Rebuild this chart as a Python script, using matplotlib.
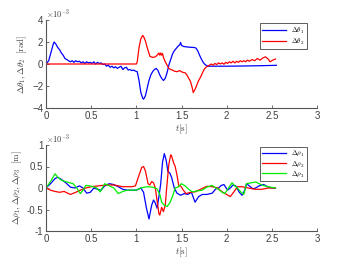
import matplotlib
matplotlib.use("Agg")
import matplotlib.pyplot as plt
import numpy as np

# ---- top panel data (x1e-3 rad) ----
t_th1 = [0, 0.03, 0.06, 0.08, 0.09, 0.11, 0.13, 0.15, 0.17, 0.19, 0.21, 0.23, 0.25, 0.27, 0.29,
         0.31, 0.33, 0.35, 0.37, 0.39, 0.41, 0.43, 0.45, 0.47, 0.49, 0.51, 0.53, 0.55, 0.57, 0.59,
         0.61, 0.63, 0.65, 0.67, 0.69, 0.71, 0.73, 0.75, 0.77, 0.79, 0.81, 0.83, 0.85, 0.87, 0.89,
         0.91, 0.93, 0.95, 0.97, 0.99, 1.01, 1.03, 1.05, 1.07, 1.08, 1.10, 1.12, 1.14, 1.16, 1.18,
         1.20, 1.22, 1.24, 1.26, 1.28, 1.30, 1.32, 1.34, 1.36, 1.38, 1.40, 1.42, 1.44, 1.46, 1.48,
         1.49, 1.50, 1.52, 1.56, 1.60, 1.64, 1.66, 1.68, 1.70, 1.72, 1.74, 1.76, 1.78, 1.80, 2.0,
         2.2, 2.4, 2.55]
th1 = [0, 0.3, 1.2, 1.8, 2.0, 1.8, 1.5, 1.3, 1.0, 0.8, 0.5, 0.4, 0.3, 0.2, 0.3,
       0.15, 0.3, 0.2, 0.25, 0.1, 0.2, 0.05, 0.2, 0.1, 0.15, 0.05, 0.2, 0.0, 0.15, 0.05,
       0.1, -0.05, 0.0, -0.2, -0.1, -0.3, -0.2, -0.35, -0.25, -0.4, -0.3, -0.2, -0.5, -0.35, -0.3,
       -0.55, -0.5, -0.6, -0.55, -0.65, -0.7, -1.5, -2.6, -3.1, -3.2, -2.9, -2.2, -1.5, -1.0, -0.7,
       -0.5, -0.4, -0.6, -1.0, -1.3, -1.5, -1.3, -0.8, -0.1, 0.4, 0.9, 1.2, 1.4, 1.6, 1.75,
       1.95, 1.7, 1.6, 1.55, 1.52, 1.5, 1.45, 1.2, 0.8, 0.45, 0.15, -0.05, -0.15, -0.2, -0.2,
       -0.18, -0.15, -0.12]

t_th2 = [0, 0.5, 1.0, 1.01, 1.03, 1.05, 1.07, 1.08, 1.10, 1.12, 1.15, 1.18, 1.21, 1.23, 1.25,
         1.26, 1.27, 1.28, 1.29, 1.30, 1.32, 1.34, 1.36, 1.38, 1.40, 1.42, 1.45, 1.48, 1.51, 1.54,
         1.56, 1.58, 1.60, 1.62, 1.63, 1.65, 1.67, 1.69, 1.71, 1.73, 1.75, 1.77, 1.79,
         1.81, 1.83, 1.85, 1.87, 1.89, 1.91, 1.93, 1.95, 1.97, 1.99, 2.01, 2.03, 2.05, 2.07, 2.09,
         2.11, 2.13, 2.15, 2.17, 2.19, 2.21, 2.23, 2.25, 2.28, 2.31, 2.34, 2.37, 2.40, 2.43, 2.46,
         2.48, 2.51, 2.54]
th2 = [0, 0, 0, 0.2, 1.5, 2.3, 2.6, 2.5, 2.1, 1.5, 0.7, 0.6, 0.65, 0.8, 1.0,
       0.8, 1.0, 0.8, 0.95, 0.6, 0.2, -0.1, -0.4, -0.5, -0.55, -0.65, -0.7, -0.6, -0.75, -0.8,
       -1.0, -1.3, -1.6, -2.2, -2.6, -2.3, -1.9, -1.5, -1.2, -0.85, -0.5, -0.3, -0.2,
       -0.1, 0.0, -0.1, 0.05, -0.05, 0.1, 0.0, 0.1, -0.02, 0.15, 0.05, 0.2, 0.1, 0.25, 0.1,
       0.25, 0.15, 0.3, 0.2, 0.3, 0.2, 0.35, 0.25, 0.4, 0.3, 0.5, 0.35, 0.55, 0.65, 0.45,
       0.2, 0.35, 0.45]

# ---- bottom panel data (x1e-3 m) ----
t_r1 = [0, 0.05, 0.1, 0.13, 0.17, 0.22, 0.27, 0.32, 0.37, 0.41, 0.45, 0.49, 0.53, 0.57, 0.61,
        0.65, 0.7, 0.75, 0.8, 0.85, 0.9, 0.95, 1.0, 1.05, 1.08, 1.11, 1.14, 1.17, 1.19, 1.21,
        1.23, 1.25, 1.27, 1.29, 1.31, 1.33, 1.35, 1.37, 1.39, 1.42, 1.45, 1.49, 1.53, 1.57, 1.61,
        1.65, 1.69, 1.73, 1.78, 1.84, 1.88, 1.91, 1.94, 1.97, 2.01, 2.04, 2.07, 2.1, 2.14, 2.17,
        2.2, 2.22, 2.25, 2.29, 2.32, 2.36, 2.41, 2.46, 2.5, 2.54]
r1 = [0, 0.1, 0.22, 0.25, 0.2, 0.12, 0.02, 0.0, 0.05, 0.0, -0.12, -0.1, 0.0, -0.03, -0.05,
      0.05, 0.1, 0.08, 0.03, -0.03, -0.05, -0.05, -0.05, 0.0, -0.1, -0.45, -0.72, -0.4, -0.28, -0.35,
      -0.47, -0.2, 0.1, 0.6, 0.8, 0.65, 0.38, 0.35, 0.25, 0.0, -0.12, -0.17, -0.13, -0.15, -0.1,
      -0.33, -0.2, -0.15, -0.15, -0.12, -0.02, 0.0, 0.06, 0.08, -0.05, 0.0, 0.07, 0.05, -0.1, -0.17,
      -0.05, 0.1, 0.05, -0.02, 0.0, 0.05, 0.08, 0.02, 0.0, 0.0]

t_r2 = [0, 0.05, 0.1, 0.15, 0.2, 0.27, 0.33, 0.38, 0.44, 0.5, 0.58, 0.67, 0.75, 0.85, 0.95,
        0.99, 1.03, 1.06, 1.08, 1.10, 1.13, 1.15, 1.17, 1.19, 1.21, 1.23, 1.25, 1.26, 1.28, 1.30,
        1.32, 1.34, 1.36, 1.38, 1.39, 1.41, 1.43, 1.45, 1.47, 1.49, 1.52, 1.55, 1.6, 1.65, 1.72,
        1.78, 1.84, 1.9, 1.95, 2.0, 2.04, 2.08, 2.12, 2.17, 2.24, 2.32, 2.39, 2.46, 2.54]
r2 = [0, -0.05, -0.08, -0.1, -0.08, -0.15, -0.1, -0.05, 0.0, 0.03, 0.05, 0.07, 0.07, 0.03, 0.03,
      0.05, 0.3, 0.48, 0.5, 0.4, 0.1, 0.07, 0.15, 0.12, 0.0, -0.3, -0.6, -0.63, -0.45, -0.55,
      -0.4, 0.1, 0.55, 0.77, 0.75, 0.6, 0.5, 0.3, 0.05, 0.05, -0.05, -0.13, -0.1, -0.09, -0.02,
      0.04, 0.03, 0.0, -0.09, -0.15, -0.2, -0.09, 0.03, 0.03, 0.0, -0.03, -0.03, 0.0, 0.0]

t_r3 = [0, 0.05, 0.1, 0.13, 0.17, 0.23, 0.3, 0.34, 0.38, 0.41, 0.44, 0.48, 0.52, 0.56, 0.6,
        0.65, 0.7, 0.75, 0.8, 0.85, 0.9, 1.0, 1.05, 1.12, 1.18, 1.23, 1.26, 1.28, 1.31, 1.34,
        1.37, 1.40, 1.43, 1.46, 1.5, 1.54, 1.58, 1.62, 1.67, 1.73, 1.78, 1.84, 1.88, 1.91, 1.95,
        1.98, 2.02, 2.06, 2.09, 2.12, 2.16, 2.19, 2.22, 2.27, 2.32, 2.36, 2.4, 2.46, 2.54]
r3 = [0, 0.15, 0.33, 0.25, 0.18, 0.14, 0.1, 0.0, -0.13, -0.05, 0.06, 0.05, 0.03, 0.0, -0.09,
      0.1, 0.05, 0.0, -0.13, -0.08, -0.05, -0.05, 0.0, 0.03, 0.02, -0.02, -0.15, -0.33, -0.4, -0.43,
      -0.35, -0.2, 0.0, 0.02, 0.1, 0.05, -0.03, -0.09, -0.07, -0.05, 0.02, 0.06, 0.0, -0.03, -0.1,
      -0.13, 0.0, 0.12, 0.05, 0.0, -0.1, -0.15, 0.1, 0.12, 0.14, 0.1, 0.06, 0.03, 0.0]

xticks = [0, 0.5, 1, 1.5, 2, 2.5, 3]
xticklabels = ["0", "0.5", "1", "1.5", "2", "2.5", "3"]
yticks_top = [-4, -2, 0, 2, 4]
yticks_bot = [-1, -0.5, 0, 0.5, 1]
yticklabels_bot = ["-1", "-0.5", "0", "0.5", "1"]

plt.rcParams['mathtext.fontset'] = 'cm'
plt.rcParams['font.family'] = ['Liberation Sans', 'DejaVu Sans']

fig = plt.figure(figsize=(3.5, 2.64), dpi=100)
W, H = 350, 264
ax1 = fig.add_axes([46/W, 1-108/H, 271/W, 88/H])
ax2 = fig.add_axes([46/W, 1-231/H, 271/W, 86/H])

tc = '#404040'
for ax in (ax1, ax2):
    for s in ('top', 'right'):
        ax.spines[s].set_visible(False)
    for s in ('left', 'bottom'):
        ax.spines[s].set_color('#555555')
        ax.spines[s].set_linewidth(0.8)
    ax.tick_params(direction='in', length=2.5, width=0.6, colors='#555555',
                   labelcolor=tc, labelsize=7, pad=2)
    ax.set_xlim(0, 3)
    ax.set_xticks(xticks)
    ax.set_xticklabels(xticklabels)
    ax.set_xlabel(r'$t\mathrm{[s]}$', fontsize=6.5, color=tc, labelpad=1)

ax1.plot(t_th1, th1, color='#0000ff', lw=0.9, label=r'$\Delta\theta_1$')
ax1.plot(t_th2, th2, color='#ff0000', lw=0.9, label=r'$\Delta\theta_2$')
ax1.set_ylim(-4, 4)
ax1.set_yticks(yticks_top)
ax1.set_ylabel(r'$\Delta\theta_1, \Delta\theta_2\ \ \mathrm{[rad]}$', fontsize=6.5, color=tc, labelpad=2)
ax1.text(0.0, 1.0, r'$\times10^{-3}$', transform=ax1.transAxes, fontsize=6, color=tc,
         ha='left', va='bottom')

ax2.plot(t_r1, r1, color='#0000ff', lw=0.9, label=r'$\Delta\rho_1$')
ax2.plot(t_r2, r2, color='#ff0000', lw=0.9, label=r'$\Delta\rho_2$')
ax2.plot(t_r3, r3, color='#00ee00', lw=0.9, label=r'$\Delta\rho_3$')
ax2.set_ylim(-1, 1)
ax2.set_yticks(yticks_bot)
ax2.set_yticklabels(yticklabels_bot)
ax2.set_ylabel(r'$\Delta\rho_1, \Delta\rho_2, \Delta\rho_3\ \ \mathrm{[m]}$', fontsize=6.5, color=tc, labelpad=2)
ax2.text(0.0, 1.0, r'$\times10^{-3}$', transform=ax2.transAxes, fontsize=6, color=tc,
         ha='left', va='bottom')

for ax, loc in ((ax1, (0.79, 0.67)), (ax2, (0.79, 0.58))):
    leg = ax.legend(loc='lower left', bbox_to_anchor=loc, fontsize=5, frameon=True,
                    fancybox=False, handlelength=3.4, handletextpad=0.8, borderpad=0.3,
                    labelspacing=0.15, borderaxespad=0)
    leg.get_frame().set_edgecolor('#333333')
    leg.get_frame().set_linewidth(0.7)

fig.savefig('out.png', dpi=100)
